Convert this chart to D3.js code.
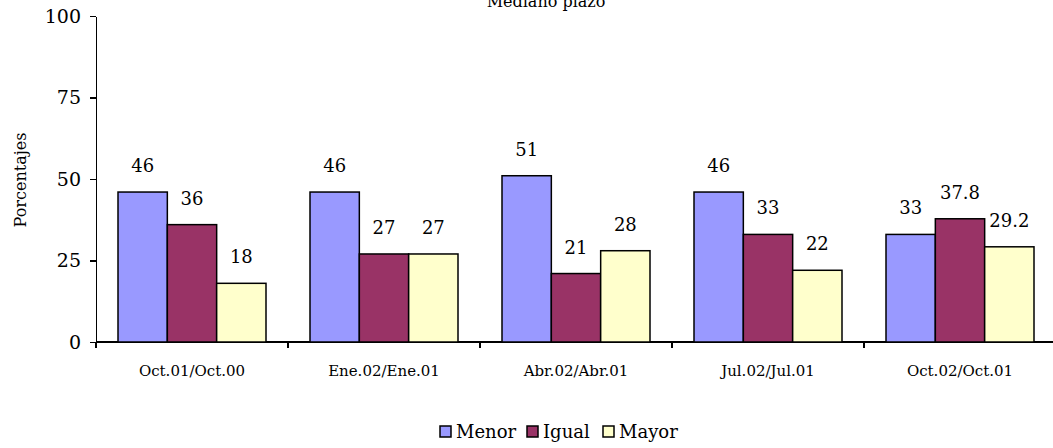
<!DOCTYPE html>
<head>
  <meta charset="utf-8">
  <style>
   body { margin: 0; background: white; }
   .axis path,
   .axis line {
     stroke: black;
     stroke-width: 1.5px;
     shape-rendering: crispEdges;
   }
   .axis text {
     font-family: "DejaVu Serif", "Liberation Serif", serif;
     fill: black;
   }
  </style>
  <script src="https://cdn.jsdelivr.net/npm/d3@7/dist/d3.min.js"></script>
</head>
<body>
  <script>
    var categories = ["Oct.01/Oct.00", "Ene.02/Ene.01", "Abr.02/Abr.01", "Jul.02/Jul.01", "Oct.02/Oct.01"];
    var seriesNames = ["Menor", "Igual", "Mayor"];
    var menor = [46, 46, 51, 46, 33];
    var igual = [36, 27, 21, 33, 37.8];
    var mayor = [18, 27, 28, 22, 29.2];
    var yTicks = [0, 25, 50, 75, 100];

    var colors = ["#9999ff", "#993366", "#ffffcc"];
    var series = [menor, igual, mayor];

    var w = 1053, h = 448;
    var mLeft = 96, mRight = 1056, mTop = 16, mBottom = 342;

    var svg = d3.select("body").append("svg")
      .attr("width", w)
      .attr("height", h);

    var xScale = d3.scaleBand()
      .domain(categories)
      .range([mLeft, mRight])
      .paddingInner(0)
      .paddingOuter(0);

    var inner = d3.scaleBand()
      .domain(d3.range(seriesNames.length))
      .range([22, xScale.bandwidth() - 22]);

    var yScale = d3.scaleLinear()
      .domain([0, 100])
      .range([mBottom, mTop]);

    // y axis
    svg.append("g")
      .attr("class", "axis")
      .attr("transform", "translate(" + mLeft + ",0)")
      .call(d3.axisLeft(yScale).tickValues(yTicks).tickSize(6).tickPadding(9).tickSizeOuter(0))
      .selectAll("text")
      .attr("font-size", "19px");

    // x axis: ticks at category boundaries
    var xAxis = svg.append("g")
      .attr("class", "axis")
      .attr("transform", "translate(0," + mBottom + ")");
    xAxis.append("line")
      .attr("x1", mLeft).attr("x2", mRight)
      .attr("y1", 0).attr("y2", 0);
    xAxis.selectAll("line.tick")
      .data(categories)
      .enter().append("line")
      .attr("class", "tick")
      .attr("x1", function(d) { return xScale(d); })
      .attr("x2", function(d) { return xScale(d); })
      .attr("y1", 0).attr("y2", 6);
    xAxis.selectAll("text")
      .data(categories)
      .enter().append("text")
      .attr("x", function(d) { return xScale(d) + xScale.bandwidth() / 2; })
      .attr("y", 34)
      .attr("text-anchor", "middle")
      .attr("font-size", "15px")
      .text(function(d) { return d; });

    // bars
    var rows = [];
    series.forEach(function(vals, s) {
      vals.forEach(function(v, i) {
        rows.push({ cat: categories[i], s: s, v: v });
      });
    });

    svg.selectAll("rect.bar")
      .data(rows)
      .enter().append("rect")
      .attr("class", "bar")
      .attr("x", function(d) { return xScale(d.cat) + inner(d.s); })
      .attr("y", function(d) { return yScale(d.v); })
      .attr("width", inner.bandwidth())
      .attr("height", function(d) { return mBottom - yScale(d.v); })
      .attr("fill", function(d) { return colors[d.s]; })
      .attr("stroke", "black")
      .attr("stroke-width", 1.5);

    // value labels
    svg.selectAll("text.lbl")
      .data(rows)
      .enter().append("text")
      .attr("class", "lbl")
      .attr("x", function(d) { return xScale(d.cat) + inner(d.s) + inner.bandwidth() / 2; })
      .attr("y", function(d) { return yScale(d.v) - 20; })
      .attr("text-anchor", "middle")
      .attr("font-family", "\"DejaVu Serif\", serif")
      .attr("font-size", "18px")
      .text(function(d) { return d.v; });

    // title
    svg.append("text")
      .attr("x", 546)
      .attr("y", 7)
      .attr("text-anchor", "middle")
      .attr("font-family", "\"DejaVu Serif\", serif")
      .attr("font-size", "16px")
      .text("Mediano plazo");

    // y title
    svg.append("text")
      .attr("transform", "translate(26,180) rotate(-90)")
      .attr("text-anchor", "middle")
      .attr("font-family", "\"DejaVu Serif\", serif")
      .attr("font-size", "16px")
      .text("Porcentajes");

    // legend
    var legendX = [440, 527, 603];
    var legend = svg.selectAll("g.leg")
      .data(seriesNames)
      .enter().append("g")
      .attr("class", "leg")
      .attr("transform", function(d, i) { return "translate(" + legendX[i] + ",426)"; });
    legend.append("rect")
      .attr("width", 11).attr("height", 11)
      .attr("fill", function(d, i) { return colors[i]; })
      .attr("stroke", "black")
      .attr("stroke-width", 1.5);
    legend.append("text")
      .attr("x", 16)
      .attr("y", 12)
      .attr("font-family", "\"DejaVu Serif\", serif")
      .attr("font-size", "18px")
      .text(function(d) { return d; });
  </script>
</body>
